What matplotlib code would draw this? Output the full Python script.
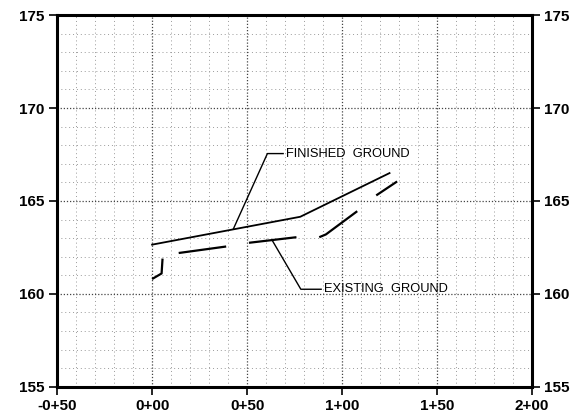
import numpy as np
from matplotlib import pyplot as plt
from matplotlib.ticker import MultipleLocator

plt.rcParams['font.family'] = ['Liberation Sans', 'DejaVu Sans']

# station ticks (ft) and their labels
x_ticks = [-50, 0, 50, 100, 150, 200]
x_labels = ["-0+50", "0+00", "0+50", "1+00", "1+50", "2+00"]
y_ticks = [155, 160, 165, 170, 175]

# finished ground profile
fg_x = [0, 78, 125]
fg_y = [162.65, 164.15, 166.5]

# existing ground, drawn as broken pieces
eg_pieces = [
    ([0, 5, 5.5], [160.8, 161.1, 161.9]),
    ([14, 39], [162.2, 162.55]),
    ([51, 76], [162.75, 163.05]),
    ([88, 91.5, 108], [163.05, 163.2, 164.45]),
    ([118, 129], [165.3, 166.05]),
]

# leader lines for the notes
fg_leader_x = [42.8, 60.7, 69]
fg_leader_y = [163.5, 167.55, 167.55]
eg_leader_x = [63.3, 78.3, 89]
eg_leader_y = [162.87, 160.25, 160.25]

fig = plt.figure(figsize=(5.77, 4.2), dpi=100)
ax = fig.add_axes([0.099, 0.079, 0.823, 0.885])

ax.set_xlim(-50, 200)
ax.set_ylim(155, 175)

ax.xaxis.set_minor_locator(MultipleLocator(10))
ax.yaxis.set_minor_locator(MultipleLocator(1))
ax.grid(True, which='minor', color='#9a9a9a', linestyle=(0, (1, 3)), linewidth=0.7)
ax.grid(True, which='major', color='#444444', linestyle=(0, (1, 1.5)), linewidth=0.9)
ax.set_axisbelow(True)

ax.plot(fg_x, fg_y, color='black', linewidth=1.3)
for px, py in eg_pieces:
    ax.plot(px, py, color='black', linewidth=1.6, solid_capstyle='butt')

ax.plot(fg_leader_x, fg_leader_y, color='black', linewidth=1.0)
ax.plot(eg_leader_x, eg_leader_y, color='black', linewidth=1.0)
ax.text(70.5, 167.55, "FINISHED  GROUND", fontsize=9.3, va='center', ha='left')
ax.text(90.5, 160.25, "EXISTING  GROUND", fontsize=9.3, va='center', ha='left')

ax.set_xticks(x_ticks)
ax.set_xticklabels(x_labels)
ax.set_yticks(y_ticks)
ax.tick_params(which='minor', length=0)
ax.tick_params(which='major', direction='out', length=6, width=1.2, labelsize=11,
               right=True, labelright=True, pad=3)
for lab in ax.get_xticklabels() + ax.get_yticklabels():
    lab.set_fontweight('bold')

for s in ax.spines.values():
    s.set_linewidth(2.2)

fig.savefig("out.png", dpi=100)
